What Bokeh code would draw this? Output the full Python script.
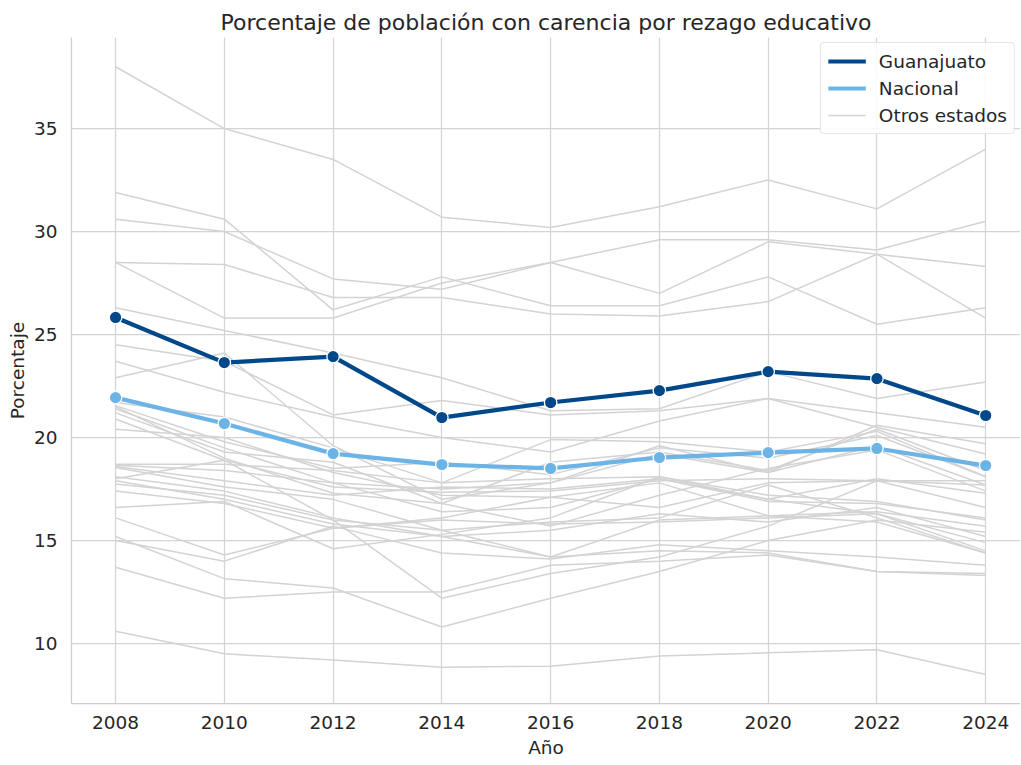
from bokeh.plotting import figure
from bokeh.models import Legend, LegendItem, FixedTicker, Range1d
from bokeh.embed import file_html
from bokeh.resources import INLINE

anios = [2008, 2010, 2012, 2014, 2016, 2018, 2020, 2022, 2024]
guanajuato = [25.83, 23.64, 23.93, 20.97, 21.70, 22.28, 23.20, 22.86, 21.07]
nacional = [21.94, 20.68, 19.22, 18.69, 18.50, 19.03, 19.27, 19.47, 18.64]

estado_01 = [38.0, 35.0, 33.5, 30.7, 30.2, 31.2, 32.5, 31.1, 34.0]
estado_02 = [31.9, 30.6, 26.2, 27.8, 26.4, 26.4, 27.8, 25.5, 26.3]
estado_03 = [30.6, 30.0, 27.7, 27.2, 28.5, 29.6, 29.6, 29.1, 30.5]
estado_04 = [28.5, 28.4, 26.8, 26.8, 26.0, 25.9, 26.6, 28.9, 25.8]
estado_05 = [28.5, 25.8, 25.8, 27.5, 28.5, 27.0, 29.5, 28.9, 28.3]
estado_06 = [26.3, 25.2, 24.1, 22.9, 21.3, 21.4, 23.2, 21.9, 22.7]
estado_07 = [22.9, 24.1, 19.6, 17.0, 17.8, 19.6, 18.3, 20.6, 19.7]
estado_08 = [24.5, 23.7, 21.1, 21.8, 21.1, 21.3, 21.9, 21.2, 20.5]
estado_09 = [23.7, 22.2, 21.0, 20.0, 19.3, 20.8, 21.9, 20.5, 19.2]
estado_10 = [21.7, 21.0, 19.5, 17.8, 19.9, 19.8, 19.3, 20.3, 18.1]
estado_11 = [21.55, 19.8, 18.5, 18.8, 18.2, 19.5, 19.0, 20.1, 18.1]
estado_12 = [21.4, 19.5, 17.8, 17.5, 17.8, 19.2, 18.3, 19.6, 17.7]
estado_13 = [21.2, 19.3, 18.8, 16.8, 15.7, 17.2, 18.5, 19.4, 17.4]
estado_14 = [20.9, 18.9, 17.6, 17.35, 17.4, 17.9, 18.0, 17.9, 17.9]
estado_15 = [20.4, 20.0, 18.3, 17.2, 17.1, 16.6, 17.8, 17.9, 16.6]
estado_16 = [18.7, 18.7, 18.4, 17.8, 18.0, 18.1, 17.2, 16.9, 16.0]
estado_17 = [18.65, 18.4, 17.8, 16.4, 16.6, 18.0, 17.0, 16.3, 14.5]
estado_18 = [18.55, 17.6, 17.0, 15.5, 14.2, 16.0, 16.2, 16.4, 15.7]
estado_19 = [18.1, 17.4, 16.1, 15.2, 15.5, 16.3, 15.9, 16.6, 15.2]
estado_20 = [17.9, 17.0, 15.8, 15.2, 14.2, 14.5, 14.4, 13.5, 13.3]
estado_21 = [17.75, 17.2, 16.0, 15.5, 15.9, 16.1, 17.7, 16.1, 14.4]
estado_22 = [17.4, 16.8, 15.6, 16.1, 17.1, 17.8, 16.2, 15.9, 14.4]
estado_23 = [16.6, 16.9, 14.6, 15.3, 16.1, 18.1, 17.0, 18.0, 17.3]
estado_24 = [16.1, 14.3, 15.6, 16.0, 15.8, 15.9, 16.1, 16.3, 14.9]
estado_25 = [15.0, 14.0, 15.7, 14.4, 14.1, 14.8, 14.5, 14.2, 13.8]
estado_26 = [13.7, 12.2, 12.5, 12.5, 13.8, 14.0, 14.3, 13.5, 13.4]
estado_27 = [15.2, 13.15, 12.7, 10.8, 12.2, 13.5, 15.0, 16.0, 15.4]
estado_28 = [18.0, 18.9, 16.0, 12.2, 13.4, 14.2, 15.7, 17.9, 17.7]
estado_29 = [21.5, 19.0, 17.3, 16.8, 18.8, 19.3, 18.4, 20.4, 18.4]
estado_30 = [18.6, 17.9, 17.2, 17.6, 17.5, 18.0, 16.9, 16.8, 16.1]
estado_31 = [10.6, 9.5, 9.2, 8.85, 8.9, 9.4, 9.55, 9.7, 8.5]

otros_estados = [estado_01, estado_02, estado_03, estado_04, estado_05, estado_06,
                 estado_07, estado_08, estado_09, estado_10, estado_11, estado_12,
                 estado_13, estado_14, estado_15, estado_16, estado_17, estado_18,
                 estado_19, estado_20, estado_21, estado_22, estado_23, estado_24,
                 estado_25, estado_26, estado_27, estado_28, estado_29, estado_30,
                 estado_31]

x_ticks = [2008, 2010, 2012, 2014, 2016, 2018, 2020, 2022, 2024]
y_ticks = [10, 15, 20, 25, 30, 35]

FONT = "DejaVu Sans"
TXT = "#262626"
GRID = "#d4d4d4"
COL_GTO = "#00488a"
COL_NAC = "#6cb4e6"
COL_OTROS = "#d3d3d3"

p = figure(width=1020, height=764, output_backend="svg", toolbar_location=None,
           x_range=Range1d(2007.19, 2024.64), y_range=Range1d(7.09, 39.42),
           min_border_left=71, min_border_right=0, min_border_top=37, min_border_bottom=61)

p.title.text = "Porcentaje de población con carencia por rezago educativo"
p.title.align = "center"
p.title.text_font = FONT
p.title.text_font_size = "22px"
p.title.text_font_style = "normal"
p.title.text_color = TXT
p.title.standoff = 6

p.outline_line_color = None
p.background_fill_color = "white"
p.border_fill_color = "white"

for ax in (p.xaxis[0], p.yaxis[0]):
    ax.axis_line_color = "#cccccc"
    ax.axis_line_width = 1.25
    ax.major_tick_out = 0
    ax.major_tick_in = 0
    ax.minor_tick_out = 0
    ax.minor_tick_in = 0
    ax.major_label_text_font = FONT
    ax.major_label_text_font_size = "18.5px"
    ax.major_label_text_color = TXT
    ax.axis_label_text_font = FONT
    ax.axis_label_text_font_size = "18.5px"
    ax.axis_label_text_font_style = "normal"
    ax.axis_label_text_color = TXT

p.xaxis.ticker = FixedTicker(ticks=x_ticks)
p.yaxis.ticker = FixedTicker(ticks=y_ticks)
p.xaxis.axis_label = "Año"
p.yaxis.axis_label = "Porcentaje"
p.xaxis.major_label_standoff = 12
p.xaxis.axis_label_standoff = 5
p.yaxis.major_label_standoff = 14
p.yaxis.axis_label_standoff = 3

p.xgrid.grid_line_color = GRID
p.ygrid.grid_line_color = GRID
p.xgrid.grid_line_width = 1.25
p.ygrid.grid_line_width = 1.25

otros_r = None
for serie in otros_estados:
    r = p.line(anios, serie, line_color=COL_OTROS, line_width=1.5)
    if otros_r is None:
        otros_r = r

nac_r = p.line(anios, nacional, line_color=COL_NAC, line_width=4.2)
p.scatter(anios, nacional, size=12.5, fill_color=COL_NAC, line_color="white", line_width=1.3)
gto_r = p.line(anios, guanajuato, line_color=COL_GTO, line_width=4.2)
p.scatter(anios, guanajuato, size=12.5, fill_color=COL_GTO, line_color="white", line_width=1.3)

legend = Legend(items=[
    LegendItem(label="Guanajuato", renderers=[gto_r]),
    LegendItem(label="Nacional", renderers=[nac_r]),
    LegendItem(label="Otros estados", renderers=[otros_r]),
], location="top_right")
legend.label_text_font = FONT
legend.label_text_font_size = "18.5px"
legend.label_text_color = TXT
legend.border_line_color = "#cccccc"
legend.border_line_width = 1
legend.border_radius = 4
legend.background_fill_color = "white"
legend.background_fill_alpha = 0.85
legend.glyph_width = 38
legend.glyph_height = 22
legend.spacing = 5
legend.padding = 7
legend.margin = 5
legend.label_standoff = 13
p.add_layout(legend)

open("out.html", "w").write(file_html(p, INLINE))
